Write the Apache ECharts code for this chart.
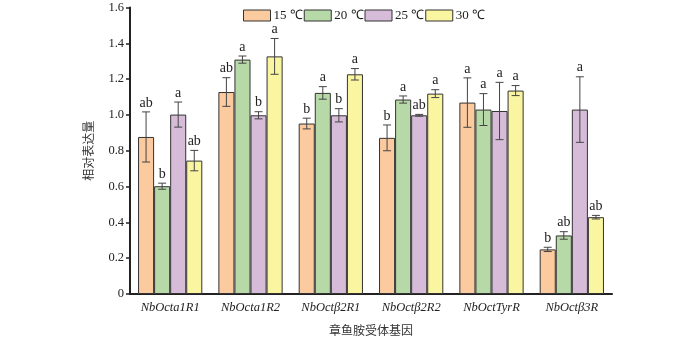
<!DOCTYPE html>
<html>
<head>
<meta charset="utf-8">
<script src="https://cdn.jsdelivr.net/npm/echarts@6/dist/echarts.min.js"></script>
<style>
html,body{margin:0;padding:0;background:#fff;}
#chart{width:700px;height:338px;}
</style>
</head>
<body>
<div id="chart"></div>
<script>
// Octopamine receptor genes on the category axis
const genes = ['NbOcta1R1', 'NbOcta1R2', 'NbOctβ2R1', 'NbOctβ2R2', 'NbOctTyrR', 'NbOctβ3R'];
const temps = ['15 ℃', '20 ℃', '25 ℃', '30 ℃'];
const colors = ['#FCCA9F', '#B7D9A8', '#D7BCDA', '#FAF5A0'];

// Relative expression (mean) per temperature
const mean15 = [0.877, 1.128, 0.952, 0.872, 1.069, 0.249];
const mean20 = [0.602, 1.309, 1.123, 1.086, 1.030, 0.327];
const mean25 = [1.002, 0.998, 0.998, 0.998, 1.022, 1.030];
const mean30 = [0.745, 1.327, 1.227, 1.119, 1.136, 0.429];

// Standard error per temperature
const err15 = [0.140, 0.080, 0.030, 0.072, 0.138, 0.012];
const err20 = [0.017, 0.020, 0.035, 0.020, 0.089, 0.021];
const err25 = [0.070, 0.020, 0.037, 0.005, 0.160, 0.183];
const err30 = [0.057, 0.100, 0.032, 0.022, 0.028, 0.010];

// Significance letters per temperature
const sig15 = ['ab', 'ab', 'b', 'b', 'a', 'b'];
const sig20 = ['b', 'a', 'a', 'a', 'a', 'ab'];
const sig25 = ['a', 'b', 'b', 'ab', 'a', 'a'];
const sig30 = ['ab', 'a', 'a', 'a', 'a', 'ab'];

// Y axis ticks
const yMin = 0, yMax = 1.6, yStep = 0.2;

const means = [mean15, mean20, mean25, mean30];
const errs = [err15, err20, err25, err30];
const sigs = [sig15, sig20, sig25, sig30];

const serif = '"Times New Roman", "Liberation Serif", serif';
const cjk = '"Noto Sans CJK SC", sans-serif';
const nSeries = temps.length;
const catGapRatio = 0.2;

const barSeries = temps.map((t, s) => ({
  name: t,
  type: 'bar',
  data: means[s],
  barGap: '0%',
  barCategoryGap: '20%',
  itemStyle: { color: colors[s], borderColor: '#333', borderWidth: 1 },
  z: 2
}));

// Error bars and significance letters, placed over the matching bar
const errSeries = temps.map((t, s) => ({
  type: 'custom',
  data: means[s].map((m, i) => [i, m, errs[s][i], sigs[s][i]]),
  z: 5,
  silent: true,
  renderItem: function (params, api) {
    const i = api.value(0), m = api.value(1), e = api.value(2);
    const band = api.size([1, 0])[0];
    const bw = band * (1 - catGapRatio) / nSeries;
    const center = api.coord([i, m]);
    const x = center[0] + (s - (nSeries - 1) / 2) * bw;
    const yTop = api.coord([i, m + e])[1];
    const yBot = api.coord([i, m - e])[1];
    const cap = 4;
    const st = { stroke: '#444', lineWidth: 1 };
    return {
      type: 'group',
      children: [
        { type: 'line', shape: { x1: x, y1: yTop, x2: x, y2: yBot }, style: st },
        { type: 'line', shape: { x1: x - cap, y1: yTop, x2: x + cap, y2: yTop }, style: st },
        { type: 'line', shape: { x1: x - cap, y1: yBot, x2: x + cap, y2: yBot }, style: st },
        { type: 'text', x: x, y: yTop - 2,
          style: { text: sigs[s][i], fill: '#222', font: '14px ' + serif, textAlign: 'center', textVerticalAlign: 'bottom' } }
      ]
    };
  }
}));

const chart = echarts.init(document.getElementById('chart'), null, { renderer: 'canvas' });
chart.setOption({
  animation: false,
  backgroundColor: '#fff',
  legend: {
    data: temps,
    top: 4,
    left: 238,
    itemWidth: 27,
    itemHeight: 11,
    itemGap: 1,
    icon: 'rect',
    itemStyle: { borderColor: '#333', borderWidth: 1 },
    textStyle: { fontFamily: serif, fontSize: 13, color: '#222', padding: [0, 0, 0, -2] }
  },
  grid: { left: 130, right: 88, top: 7.5, bottom: 44, containLabel: false, outerBoundsMode: 'none' },
  xAxis: {
    type: 'category',
    data: genes,
    name: '章鱼胺受体基因',
    nameLocation: 'middle',
    nameGap: 30,
    nameTextStyle: { fontFamily: cjk, fontSize: 12, color: '#333' },
    axisLine: { lineStyle: { color: '#222', width: 2 } },
    axisTick: { show: false },
    axisLabel: { fontFamily: serif, fontStyle: 'italic', fontSize: 12.5, color: '#222', margin: 7 }
  },
  yAxis: {
    type: 'value',
    min: yMin, max: yMax, interval: yStep,
    name: '相对表达量',
    nameLocation: 'middle',
    nameRotate: 90,
    nameGap: 36,
    nameTextStyle: { fontFamily: cjk, fontSize: 12, color: '#333' },
    axisLine: { show: true, lineStyle: { color: '#222', width: 2 } },
    axisTick: { show: true, length: 4, lineStyle: { color: '#222', width: 1.5 } },
    splitLine: { show: false },
    axisLabel: {
      fontFamily: serif, fontSize: 12.5, color: '#222', margin: 6,
      formatter: v => (v === 0 ? '0' : v.toFixed(1))
    }
  },
  series: barSeries.concat(errSeries)
});
</script>
</body>
</html>
